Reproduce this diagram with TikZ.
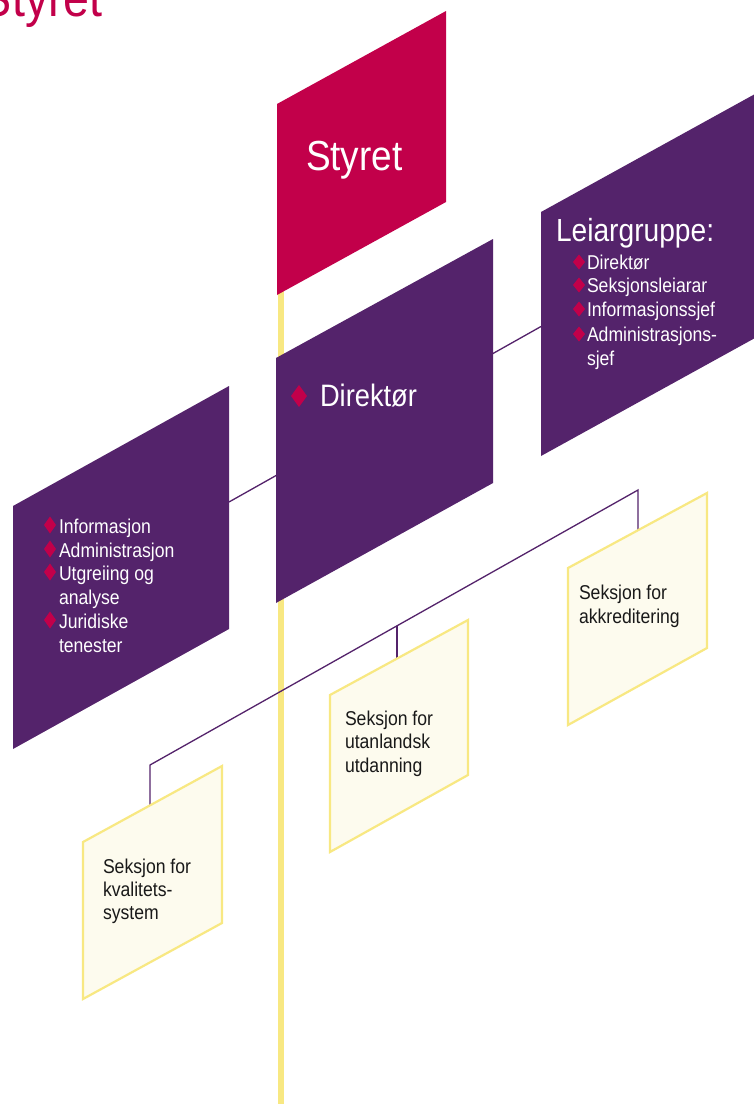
\documentclass[tikz,border=0pt]{standalone}
\usepackage{fontspec}
\setmainfont{Liberation Sans}[FakeStretch=0.88]
\definecolor{crim}{HTML}{C2004A}
\definecolor{purp}{HTML}{54236B}
\definecolor{ylw}{HTML}{F8E882}
\definecolor{cream}{HTML}{FDFBEE}
\newcommand\dmd[4]{\fill[crim] (#1,#2) +(0,-#4) -- +(#3,0) -- +(0,#4) -- +(-#3,0) -- cycle;}
\tikzset{
  pbox/.style={fill=purp},
  rbox/.style={fill=crim},
  ybox/.style={fill=cream, draw=ylw, line width=2.2pt, line join=miter},
  conn/.style={draw=purp, line width=1.3pt},
  spine/.style={draw=ylw, line width=5.5pt},
  txt/.style={anchor=base west, inner sep=0pt, outer sep=0pt},
  wl/.style={txt, text=white, font=\fontsize{20}{24}\selectfont},
  bl/.style={txt, text=black!90, font=\fontsize{20}{24}\selectfont},
}
\begin{document}
\begin{tikzpicture}[x=1pt,y=-1pt]
\clip (0,0) rectangle (754,1104);
\fill[white] (0,0) rectangle (754,1104);
% title
\node[anchor=base east, inner sep=0pt, text=crim, font=\fontsize{53}{58}\selectfont] (title) at (103,16) {Styret};
% spine
\coordinate (sp-top) at (281,290);
\coordinate (sp-bot) at (281,1110);
\draw[spine] (sp-top) -- (sp-bot);
% upper connector (behind Direktør)
\coordinate (lb-r) at (229,502);
\coordinate (lg-l) at (541,326.5);
\draw[conn] (lb-r) -- (lg-l);
% lower connector
\coordinate (k1) at (150,765);
\coordinate (k2) at (397,625.8);
\coordinate (k3) at (638,490);
\coordinate (d1) at (150,830);
\coordinate (d2) at (397,690);
\coordinate (d3) at (638,555);
\draw[conn] (d1) -- (k1) -- (k2) -- (k3) -- (d3);
\draw[conn] (k2) -- (d2);
% boxes
\fill[rbox] (277,104) -- (446,11) -- (446,202) -- (277,295) -- cycle;
\fill[pbox] (276,358) -- (493,239) -- (493,483) -- (276,603) -- cycle;
\fill[pbox] (541,212) -- (755,94) -- (755,338) -- (541,456) -- cycle;
\fill[pbox] (13,506) -- (229,386) -- (229,629) -- (13,749) -- cycle;
\draw[ybox] (83,842) -- (222,766) -- (222,923) -- (83,999) -- cycle;
\draw[ybox] (330,695) -- (468,620) -- (468,775) -- (330,852) -- cycle;
\draw[ybox] (568,568) -- (707,493) -- (707,648) -- (568,725) -- cycle;
% Styret
\node[txt, text=white, font=\fontsize{42}{46}\selectfont] (styret) at (306,170) {Styret};
% Direktør
\dmd{299}{396}{8}{11}
\node[txt, text=white, font=\fontsize{31}{36}\selectfont] (direktor) at (320,406) {Direktør};
% Leiargruppe
\node[txt, text=white, font=\fontsize{32}{36}\selectfont] (leiar) at (556,241) {Leiargruppe:};
\dmd{579}{262}{6}{7.5}
\node[wl] (lg1) at (587,269) {Direktør};
\dmd{579}{285}{6}{7.5}
\node[wl] (lg2) at (587,292) {Seksjonsleiarar};
\dmd{579}{309}{6}{7.5}
\node[wl] (lg3) at (587,316) {Informasjonssjef};
\dmd{579}{334}{6}{7.5}
\node[wl] (lg4) at (587,341) {Administrasjons-};
\node[wl] (lg5) at (587,365) {sjef};
% left list
\dmd{50}{525}{6}{8.5}
\node[wl] (ll1) at (59,533) {Informasjon};
\dmd{50}{549}{6}{8.5}
\node[wl] (ll2) at (59,557) {Administrasjon};
\dmd{50}{572}{6}{8.5}
\node[wl] (ll3) at (59,580) {Utgreiing og};
\node[wl] (ll4) at (59,604) {analyse};
\dmd{50}{620}{6}{8.5}
\node[wl] (ll5) at (59,628) {Juridiske};
\node[wl] (ll6) at (59,652) {tenester};
% yellow boxes text
\node[bl] (y1a) at (103,873) {Seksjon for};
\node[bl] (y1b) at (103,896) {kvalitets-};
\node[bl] (y1c) at (103,919) {system};
\node[bl] (y2a) at (345,725) {Seksjon for};
\node[bl] (y2b) at (345,748) {utanlandsk};
\node[bl] (y2c) at (345,772) {utdanning};
\node[bl] (y3a) at (579,599) {Seksjon for};
\node[bl] (y3b) at (579,623) {akkreditering};
\end{tikzpicture}
\end{document}
